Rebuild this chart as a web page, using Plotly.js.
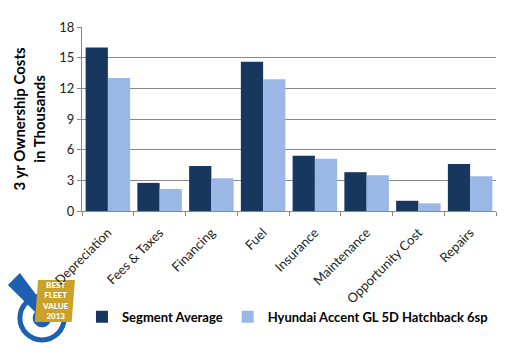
<!DOCTYPE html>
<html>
<head>
<meta charset="utf-8">
<script src="https://cdn.plot.ly/plotly-3.0.1.min.js"></script>
<style>html,body{margin:0;padding:0;background:#fff}#chart{width:512px;height:351px}</style>
</head>
<body>
<div id="chart"></div>
<script>
const categories = ["Depreciation", "Fees & Taxes", "Financing", "Fuel", "Insurance", "Maintenance", "Opportunity Cost", "Repairs"];
const segmentAverage = [16.0, 2.75, 4.4, 14.6, 5.4, 3.8, 1.0, 4.6];
const hyundaiAccent = [13.0, 2.15, 3.2, 12.9, 5.1, 3.5, 0.75, 3.4];
const seriesNames = ["Segment Average", "Hyundai Accent GL 5D Hatchback 6sp"];
const yTicks = [0, 3, 6, 9, 12, 15, 18];

const traces = [
  {type: "bar", name: seriesNames[0], x: categories, y: segmentAverage,
   marker: {color: "#17375e"}, hoverinfo: "none"},
  {type: "bar", name: seriesNames[1], x: categories, y: hyundaiAccent,
   marker: {color: "#9bb7e5"}, hoverinfo: "none"}
];

const blue = "#1d5fb0";
const layout = {
  width: 512, height: 351,
  margin: {l: 82, r: 16, t: 27, b: 140, pad: 0},
  paper_bgcolor: "#fff", plot_bgcolor: "#fff",
  font: {family: "Lato, 'Open Sans', sans-serif", color: "#1a1a1a"},
  barmode: "group", bargap: 0.14, bargroupgap: 0,
  showlegend: true,
  legend: {orientation: "h", x: -0.0001, y: -0.575, xanchor: "left", yanchor: "middle",
           font: {size: 13, family: "Lato, sans-serif", weight: 700, color: "#000"},
           traceorder: "normal", itemwidth: 30},
  xaxis: {type: "category", tickangle: -45, tickfont: {size: 13, color: "#222"},
          ticks: "outside", tickson: "boundaries", ticklen: 4, tickcolor: "#888",
          ticklabelstandoff: 8,
          showline: true, linecolor: "#888", linewidth: 1, showgrid: false, fixedrange: true},
  yaxis: {range: [0, 18], tickvals: yTicks, ticktext: yTicks.map(String),
          tickfont: {size: 13, color: "#222"}, ticks: "outside", ticklen: 4, tickcolor: "#888",
          showline: true, linecolor: "#888", linewidth: 1,
          showgrid: true, gridcolor: "#8a8a8a", gridwidth: 1, zeroline: false,
          title: {text: "3 yr Ownership Costs<br>in Thousands", standoff: 10,
                  font: {size: 15, family: "Lato, sans-serif", weight: 700, color: "#000"}}},
  shapes: [
    {type: "circle", xref: "paper", yref: "paper", layer: "below", x0: -0.150, x1: -0.043, y0: -0.701, y1: -0.462,
     fillcolor: "rgba(0,0,0,0)", line: {color: blue, width: 5}},
    {type: "circle", xref: "paper", yref: "paper", layer: "below", x0: -0.118, x1: -0.075, y0: -0.630, y1: -0.533,
     fillcolor: blue, line: {color: blue, width: 1}},
    {type: "path", xref: "paper", yref: "paper", layer: "below",
     path: "M -0.179 -0.402 L -0.150 -0.337 L -0.092 -0.511 L -0.106 -0.565 Z",
     fillcolor: blue, line: {width: 0}},
    {type: "path", xref: "paper", yref: "paper", layer: "below",
     path: "M -0.106 -0.375 L -0.017 -0.375 L -0.025 -0.603 L -0.114 -0.603 Z",
     fillcolor: "#c9a227", line: {width: 0}}
  ],
  annotations: [
    {xref: "paper", yref: "paper", x: -0.065, y: -0.489, text: "BEST<br>FLEET<br>VALUE<br>2013",
     showarrow: false, font: {size: 8, color: "#fff", family: "Lato, sans-serif", weight: 900},
     align: "center", xanchor: "center", yanchor: "middle"}
  ]
};

Plotly.newPlot("chart", traces, layout, {displayModeBar: false, staticPlot: true});
</script>
</body>
</html>
